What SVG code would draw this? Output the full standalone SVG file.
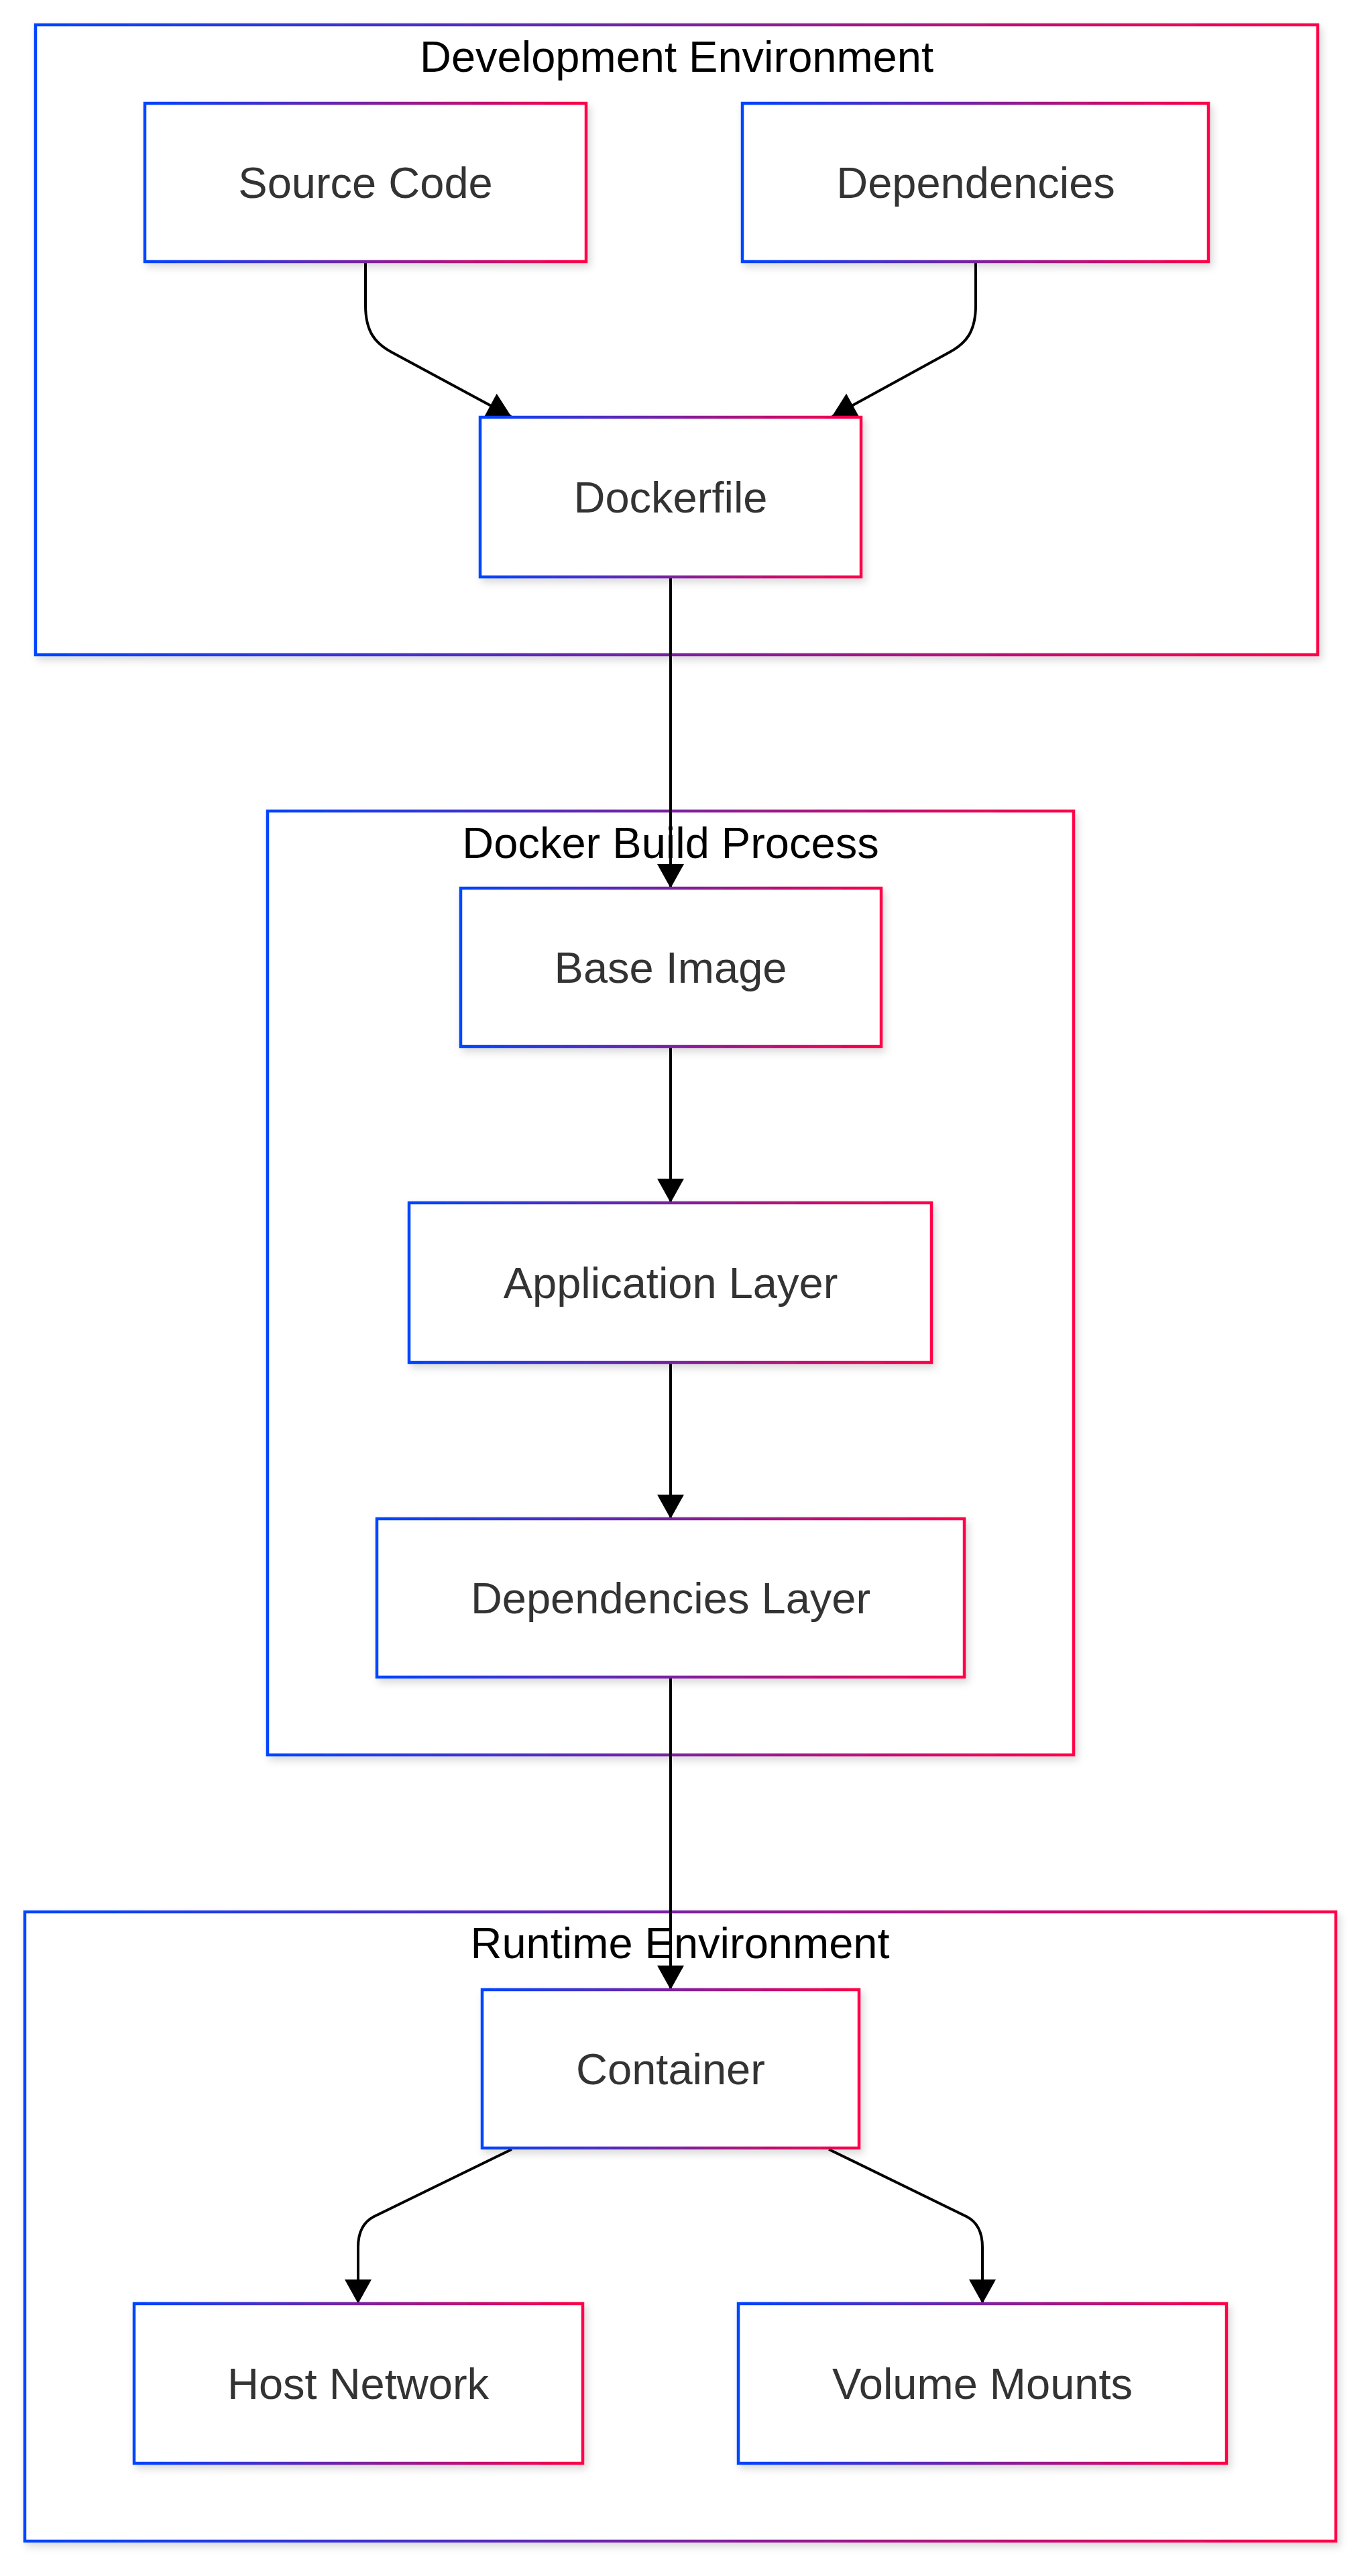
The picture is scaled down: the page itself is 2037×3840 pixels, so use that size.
<svg xmlns="http://www.w3.org/2000/svg" width="2037" height="3840" viewBox="0 0 2037 3840">
<defs>
<linearGradient id="grad" x1="0" y1="0" x2="1" y2="0">
<stop offset="0" stop-color="#0044ff"/>
<stop offset="0.5" stop-color="#7a22a0"/>
<stop offset="1" stop-color="#ff0048"/>
</linearGradient>
<filter id="shadow" x="-10%" y="-10%" width="130%" height="130%">
<feDropShadow dx="4" dy="6" stdDeviation="6" flood-color="#000" flood-opacity="0.15"/>
</filter>
<marker id="arrow" markerUnits="userSpaceOnUse" markerWidth="38" markerHeight="40" viewBox="0 0 36 40" refX="35" refY="20" orient="auto">
<path d="M0,0 L36,20 L0,40 z" fill="#000"/>
</marker>
<style>
.cluster rect{fill:#ffffff;stroke:url(#grad);stroke-width:4.5;filter:url(#shadow);}
.cluster text{font-family:"Liberation Sans",Arial,sans-serif;font-size:65px;fill:#000;text-anchor:middle;}
.node rect{fill:#ffffff;stroke:url(#grad);stroke-width:4.5;filter:url(#shadow);}
.node text{font-family:"Liberation Sans",Arial,sans-serif;font-size:65px;fill:#333333;text-anchor:middle;}
.edge{fill:none;stroke:#000;stroke-width:4;marker-end:url(#arrow);}
</style>
</defs>
<rect x="0" y="0" width="2037" height="3840" fill="#ffffff"/>

<g id="clusters">
<g id="cluster-dev" class="cluster">
<rect x="53" y="37" width="1912" height="939"/>
<text x="1009" y="107">Development Environment</text>
</g>
<g id="cluster-build" class="cluster">
<rect x="399" y="1209" width="1202" height="1407"/>
<text x="1000" y="1279">Docker Build Process</text>
</g>
<g id="cluster-runtime" class="cluster">
<rect x="37" y="2850" width="1955" height="938"/>
<text x="1014" y="2919">Runtime Environment</text>
</g>
</g>

<g id="connectors">
<path class="edge" d="M545,390 L545,455 C545,495 560,512 584,525 L762,621"/>
<path class="edge" d="M1455,390 L1455,455 C1455,495 1440,512 1416,525 L1241,621"/>
<path class="edge" d="M1000,860 L1000,1323"/>
<path class="edge" d="M1000,1560 L1000,1792"/>
<path class="edge" d="M1000,2031 L1000,2263"/>
<path class="edge" d="M1000,2500 L1000,2965"/>
<path class="edge" d="M763,3204 L558,3304 C542,3312 534,3328 534,3350 L534,3433"/>
<path class="edge" d="M1236,3204 L1441,3304 C1457,3312 1465,3328 1465,3350 L1465,3433"/>
</g>

<g id="node-source-code" class="node">
<rect x="216" y="154" width="658" height="236"/>
<text x="545" y="295">Source Code</text>
</g>
<g id="node-dependencies" class="node">
<rect x="1107" y="154" width="695" height="236"/>
<text x="1455" y="295">Dependencies</text>
</g>
<g id="node-dockerfile" class="node">
<rect x="716" y="622" width="568" height="238"/>
<text x="1000" y="764">Dockerfile</text>
</g>
<g id="node-base-image" class="node">
<rect x="687" y="1324" width="627" height="236"/>
<text x="1000" y="1465">Base Image</text>
</g>
<g id="node-application-layer" class="node">
<rect x="610" y="1793" width="779" height="238"/>
<text x="1000" y="1935">Application Layer</text>
</g>
<g id="node-dependencies-layer" class="node">
<rect x="562" y="2264" width="876" height="236"/>
<text x="1000" y="2405">Dependencies Layer</text>
</g>
<g id="node-container" class="node">
<rect x="719" y="2966" width="562" height="236"/>
<text x="1000" y="3107">Container</text>
</g>
<g id="node-host-network" class="node">
<rect x="200" y="3434" width="669" height="238"/>
<text x="534" y="3576">Host Network</text>
</g>
<g id="node-volume-mounts" class="node">
<rect x="1101" y="3434" width="728" height="238"/>
<text x="1465" y="3576">Volume Mounts</text>
</g>
</svg>
